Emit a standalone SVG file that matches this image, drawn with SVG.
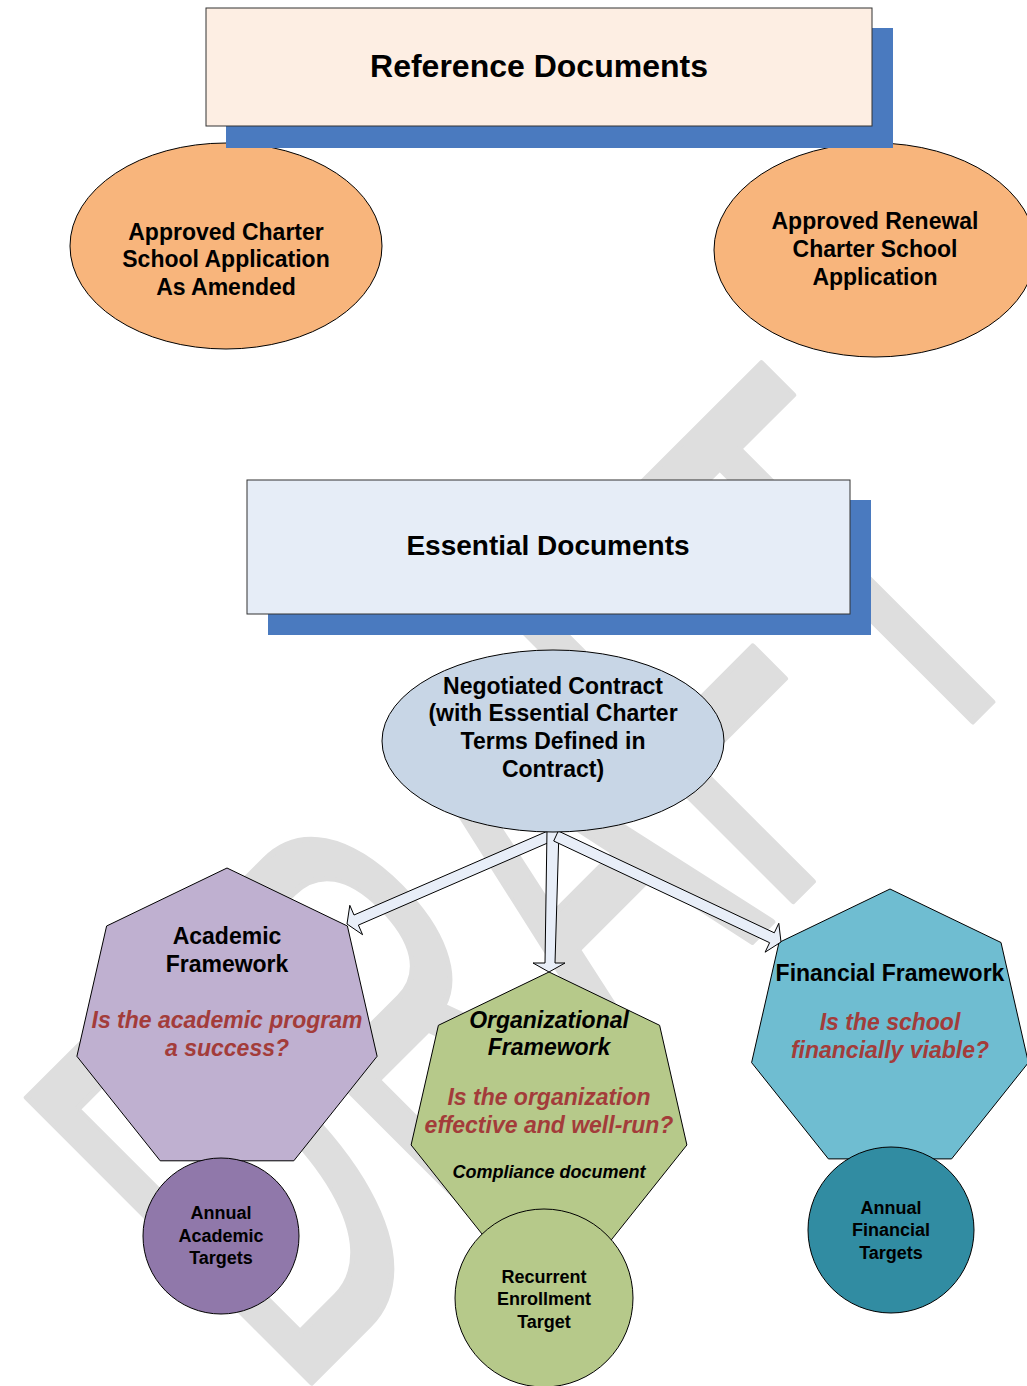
<svg xmlns="http://www.w3.org/2000/svg" width="1027" height="1386" viewBox="0 0 1027 1386">
<style>
.t{font-family:"Liberation Sans",Arial,sans-serif;font-weight:bold;text-anchor:middle;fill:#000}
.b23{font-size:23px}
.b18{font-size:18px}
.it{font-style:italic}
.red{fill:#a33c3a}
.ln{stroke:#000;stroke-width:1}
.shadow{fill:#4a7abf}
.arrow{fill:#e8eef8;stroke:#000;stroke-width:1;stroke-linejoin:miter}
</style>
<rect width="1027" height="1386" fill="#fff"/>
<g id="watermark">
<text x="0" y="0" transform="translate(292,1402) rotate(-45)" font-family="Liberation Sans, Arial, sans-serif" font-size="585" fill="#dedede" stroke="#dedede" stroke-width="6" stroke-linejoin="round" textLength="1075" lengthAdjust="spacingAndGlyphs">DRAFT</text>
</g>
<g id="approved-charter">
<ellipse cx="226" cy="246" rx="156" ry="103" fill="#f8b57c" class="ln"/>
<text class="t b23" x="226" y="240">Approved Charter</text>
<text class="t b23" x="226" y="267">School Application</text>
<text class="t b23" x="226" y="295">As Amended</text>
</g>
<g id="approved-renewal">
<ellipse cx="875" cy="250" rx="161" ry="107" fill="#f8b57c" class="ln"/>
<text class="t b23" x="875" y="229">Approved Renewal</text>
<text class="t b23" x="875" y="257">Charter School</text>
<text class="t b23" x="875" y="285">Application</text>
</g>
<g id="reference-documents">
<rect x="226" y="28" width="667" height="120" class="shadow"/>
<rect x="206" y="8" width="666" height="118" fill="#fdeee3" stroke="#333" stroke-width="1"/>
<text class="t" x="539" y="77" font-size="32">Reference Documents</text>
</g>
<g id="essential-documents">
<rect x="268" y="500" width="603" height="135" class="shadow"/>
<rect x="247" y="480" width="603" height="134" fill="#e6edf7" stroke="#333" stroke-width="1"/>
<text class="t" x="548" y="555" font-size="28">Essential Documents</text>
</g>
<g id="academic-framework">
<polygon points="227,868 347.4,926 377.1,1056.3 293.8,1160.8 160.2,1160.8 76.9,1056.3 106.6,926" fill="#bfb0d0" class="ln"/>
<text class="t b23" x="227" y="944">Academic</text>
<text class="t b23" x="227" y="972">Framework</text>
<text class="t b23 it red" x="227" y="1028">Is the academic program</text>
<text class="t b23 it red" x="227" y="1056">a success?</text>
</g>
<g id="organizational-framework">
<polygon points="549,972 659.6,1025.3 686.9,1145 610.4,1241 487.6,1241 411.1,1145 438.4,1025.3" fill="#b6c98a" class="ln"/>
<text class="t b23 it" x="549" y="1028">Organizational</text>
<text class="t b23 it" x="549" y="1055">Framework</text>
<text class="t b23 it red" x="549" y="1105">Is the organization</text>
<text class="t b23 it red" x="549" y="1133">effective and well-run?</text>
<text class="t b18 it" x="549" y="1178">Compliance document</text>
</g>
<g id="financial-framework">
<polygon points="890,889 1001,942.5 1028.4,1062.6 951.6,1158.9 828.4,1158.9 751.6,1062.6 779,942.5" fill="#6fbdd1" class="ln"/>
<text class="t b23" x="890" y="981">Financial Framework</text>
<text class="t b23 it red" x="890" y="1030">Is the school</text>
<text class="t b23 it red" x="890" y="1058">financially viable?</text>
</g>
<g id="connectors">
<polygon class="arrow" points="547.8,831 354,915 349.8,905.3 347,924 362.6,934.7 358.4,925.1 552.2,841"/>
<polygon class="arrow" points="547,830 545,963 533,963 549,972 565,963 555,963 559,830"/>
<polygon class="arrow" points="558.3,831 774.3,932.8 778.8,923.3 781,942 765.1,952.2 769.6,942.7 553.7,841"/>
</g>
<g id="negotiated-contract">
<ellipse cx="553" cy="741" rx="171" ry="91" fill="#c8d6e6" class="ln"/>
<text class="t b23" x="553" y="694">Negotiated Contract</text>
<text class="t b23" x="553" y="721">(with Essential Charter</text>
<text class="t b23" x="553" y="749">Terms Defined in</text>
<text class="t b23" x="553" y="777">Contract)</text>
</g>
<g id="annual-academic-targets">
<circle cx="221" cy="1236" r="78" fill="#9078aa" class="ln"/>
<text class="t b18" x="221" y="1218.5">Annual</text>
<text class="t b18" x="221" y="1241.5">Academic</text>
<text class="t b18" x="221" y="1263.5">Targets</text>
</g>
<g id="recurrent-enrollment-target">
<circle cx="544" cy="1298" r="89" fill="#b6c98a" class="ln"/>
<text class="t b18" x="544" y="1282.5">Recurrent</text>
<text class="t b18" x="544" y="1304.5">Enrollment</text>
<text class="t b18" x="544" y="1327.5">Target</text>
</g>
<g id="annual-financial-targets">
<circle cx="891" cy="1230" r="83" fill="#318ca2" class="ln"/>
<text class="t b18" x="891" y="1213.5">Annual</text>
<text class="t b18" x="891" y="1235.5">Financial</text>
<text class="t b18" x="891" y="1258.5">Targets</text>
</g>
</svg>
